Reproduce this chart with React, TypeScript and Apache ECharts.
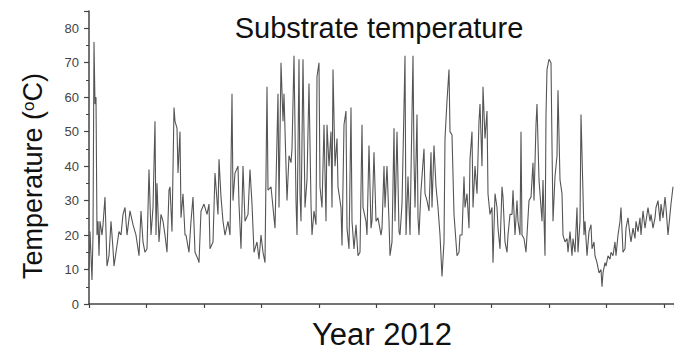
import React, { useEffect, useRef } from "react";
import * as echarts from "echarts";

// Sample time in half-day steps since start of record
const halfDayIndex: number[] = [
  0,1,2,3,4,5,6,7,8,9,10,11,13,14,16,18,20,22,24,25,27,30,32,34,36,38,41,44,47,50,52,54,56,58,60,62,64,66,67,68,70,72,74,76,78,80,81,83,85,86,88,89,91,92,94,96,
  97,100,102,104,106,109,110,112,115,118,120,121,124,126,129,130,132,134,136,139,141,143,144,146,149,150,152,154,156,159,161,163,165,168,170,172,174,176,178,179,182,184,186,189,190,192,194,
  195,197,198,200,202,203,205,207,208,210,211,212,214,216,218,220,222,223,225,227,228,230,231,233,235,237,238,240,242,243,244,246,248,249,252,253,255,257,258,260,262,263,265,267,269,271,273,274,277,278,280,282,283,285,287,289,292,
  293,295,296,298,300,301,303,305,306,308,310,311,313,315,316,317,319,321,322,324,325,326,328,329,330,332,335,336,338,340,342,343,345,347,349,351,353,355,356,358,360,361,363,365,366,368,370,371,373,375,376,378,380,381,383,384,386,388,390,
  391,393,394,396,398,399,401,403,404,406,408,409,411,413,414,416,418,419,421,423,424,426,428,429,431,432,433,435,437,438,440,442,444,445,447,448,450,451,453,454,456,457,458,460,462,463,464,466,468,469,471,473,474,476,478,479,481,483,484,486,488,
  489,491,492,494,495,496,498,500,502,503,505,506,508,510,512,513,514,516,517,519,521,522,524,526,527,529,531,532,534,536,537,539,541,542,544,546,547,549,551,552,554,556,557,559,561,562,564,566,567,569,571,572,574,576,577,579,581,582,584,
];

// Substrate temperature (°C)
const temperature: number[] = [
  10,21,14,7,20,76,58,60,20,24,14,24,20,23,31,11,14,24,16,11,15,21,20,26,28,20,27,23,20,14,27,18,15,16,39,20,28,53,20,35,18,26,24,20,15,33,34,21,57,53,51,38,50,25,32,20,
  20,15,24,31,15,13,12,27,29,26,29,16,18,38,26,42,31,24,20,24,20,61,30,38,40,29,16,40,24,26,39,29,15,18,13,20,15,12,63,33,34,28,22,61,28,70,53,
  61,40,30,43,41,45,72,30,20,71,32,24,71,28,36,64,29,20,27,23,66,70,34,28,52,24,52,40,50,28,68,40,48,34,28,17,52,56,22,16,57,24,16,23,14,15,52,28,24,20,46,22,24,44,24,25,20,
  22,40,28,40,24,14,18,51,24,50,21,20,29,57,72,20,37,20,38,72,42,28,55,25,20,33,45,32,30,27,44,28,46,34,28,20,8,18,48,59,68,50,49,26,22,14,15,20,20,37,28,32,22,42,50,28,40,32,53,
  58,40,63,48,56,32,26,28,12,32,28,22,16,34,31,18,15,20,26,26,33,20,30,24,20,50,20,19,15,20,30,31,41,30,52,58,36,32,24,36,14,55,68,71,70,46,24,37,43,62,36,32,20,18,19,15,21,14,19,15,28,
  15,24,55,32,20,24,14,21,23,16,18,14,12,9,10,5,9,12,11,14,13,15,14,18,14,20,24,28,15,16,22,25,20,18,22,19,24,21,25,20,27,22,24,28,24,26,22,25,28,30,24,29,25,31,28,20,26,29,34,
];

const yTicks = { min: 0, max: 85, interval: 10 };
const xTicks = { min: 0, max: 585, interval: 57.5 };

const titleText = "Substrate temperature";
const xAxisTitle = "Year 2012";

const FONT = "'Liberation Sans', Arial, sans-serif";

export default function App() {
  const ref = useRef<HTMLDivElement>(null);
  useEffect(() => {
    if (!ref.current) return;
    const chart = echarts.init(ref.current, null, { renderer: "svg" });
    const data = halfDayIndex.map((t, i) => [t, temperature[i]]);
    chart.setOption({
      animation: false,
      backgroundColor: "#ffffff",
      grid: { left: 89, right: 0, top: 11, bottom: 48, outerBoundsMode: "none" },
      xAxis: {
        type: "value",
        min: xTicks.min,
        max: xTicks.max,
        interval: xTicks.interval,
        axisLine: { show: true, lineStyle: { color: "#444", width: 1.5 } },
        axisTick: { show: true, inside: false, length: 4, lineStyle: { color: "#444", width: 1.2 } },
        axisLabel: { show: false },
        splitLine: { show: false },
      },
      yAxis: {
        type: "value",
        min: yTicks.min,
        max: yTicks.max,
        interval: yTicks.interval,
        axisLine: { show: true, lineStyle: { color: "#444", width: 1.5 } },
        axisTick: { show: true, inside: false, length: 5, lineStyle: { color: "#444", width: 1.2 } },
        minorTick: { show: true, splitNumber: 2, length: 3, lineStyle: { color: "#444", width: 1 } },
        axisLabel: {
          color: "#444",
          fontSize: 13,
          fontFamily: FONT,
          margin: 10,
          formatter: (v: number) => (v % 10 === 0 ? String(v) : ""),
        },
        splitLine: { show: false },
      },
      series: [
        {
          type: "line",
          data,
          showSymbol: false,
          symbol: "none",
          lineStyle: { color: "#555", width: 1.1 },
          z: 2,
        },
      ],
      graphic: [
        {
          type: "text",
          x: 379,
          y: 28,
          style: {
            text: titleText,
            fontSize: 29,
            fontFamily: FONT,
            fill: "#111",
            textAlign: "center",
            textVerticalAlign: "middle",
          },
        },
        {
          type: "text",
          x: 382,
          y: 334,
          style: {
            text: xAxisTitle,
            fontSize: 31,
            fontFamily: FONT,
            fill: "#111",
            textAlign: "center",
            textVerticalAlign: "middle",
          },
        },
        {
          type: "text",
          x: 33,
          y: 176,
          rotation: Math.PI / 2,
          style: {
            text: "{a|Temperature (}{s|o}{a|C)}",
            fontFamily: FONT,
            fill: "#111",
            textAlign: "center",
            textVerticalAlign: "middle",
            rich: {
              a: { fontSize: 27, fontFamily: FONT, fill: "#111" },
              s: { fontSize: 17, fontFamily: FONT, fill: "#111", verticalAlign: "top" },
            },
          },
        },
      ],
    });
    return () => chart.dispose();
  }, []);
  return (
    <div
      ref={ref}
      style={{ position: "absolute", left: 0, top: 0, width: 674, height: 352 }}
    />
  );
}
